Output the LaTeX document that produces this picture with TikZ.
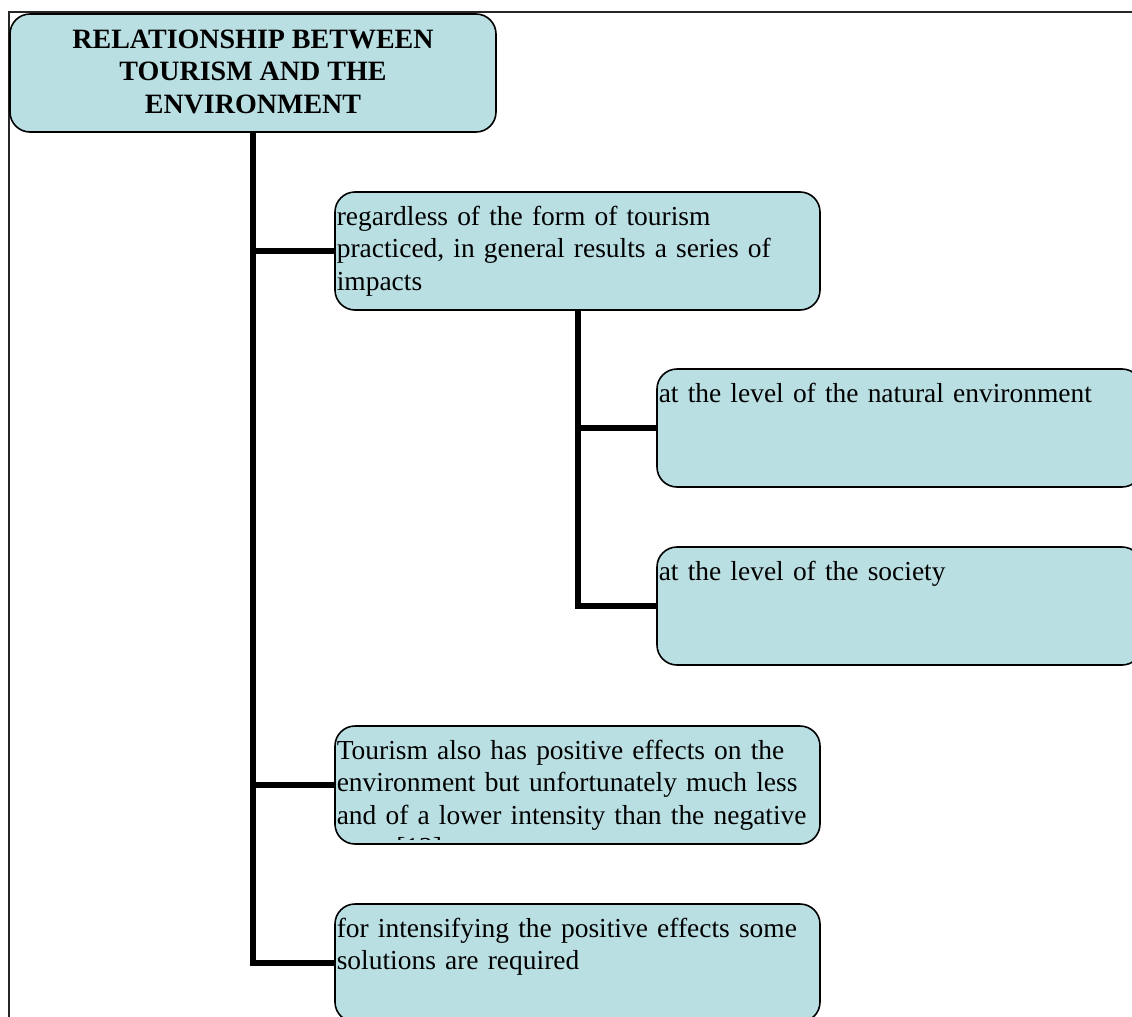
\documentclass[tikz,border=0pt]{standalone}
\usepackage{fontspec}
\setmainfont{Liberation Serif}
\definecolor{boxfill}{RGB}{186,223,227}
\tikzset{
  box/.style={draw=black, line width=1.2pt, fill=boxfill, rounded corners=15pt,
    minimum width=363.75pt, minimum height=88.5pt, inner sep=0pt, outer sep=0pt, anchor=north west},
  txt/.style={anchor=north west, inner sep=0pt, align=left, text width=380pt,
    font=\fontsize{20.6}{24.4}\selectfont},
  ttl/.style={anchor=north, inner sep=0pt, align=center,
    font=\fontsize{21}{24.4}\selectfont\bfseries},
  conn/.style={line width=4.5pt, line join=miter, line cap=butt},
  frameline/.style={line width=1.1pt, draw=black!85}
}
\begin{document}
\begin{tikzpicture}[x=0.75pt,y=-0.75pt]
\useasboundingbox (0,0) rectangle (1132,1017);
\clip (0,0) rectangle (1132,1017);
% frame
\coordinate (fr) at (1132,12);
\coordinate (fc) at (9,12);
\coordinate (fb) at (9,1017);
\draw[frameline] (fr) -- (fc) -- (fb);
% boxes
\node[box, minimum width=364.5pt] (b1) at (10,14) {};
\node[box] (b2) at (335,192) {};
\node[box] (b3) at (657,369) {};
\node[box] (b4) at (657,547) {};
\node[box] (b5) at (335,726) {};
\node[box] (b6) at (335,904) {};
% connectors
\draw[conn] (b1.south) |- (b6.west);
\draw[conn] (b1.south |- b2.west) -- (b2.west);
\draw[conn] (b1.south |- b5.west) -- (b5.west);
\draw[conn] (b2.south) |- (b4.west);
\draw[conn] (b2.south |- b3.west) -- (b3.west);
% texts
\node[ttl] (t1) at (253,25.3) {\strut RELATIONSHIP BETWEEN\\TOURISM AND THE\\ENVIRONMENT};
\node[txt] (t2) at (336.5,202.3) {\strut regardless of the form of tourism\\practiced, in general results a series of\\impacts};
\node[txt] (t3) at (658.5,379.3) {\strut at the level of the natural environment};
\node[txt] (t4) at (658.5,557.3) {\strut at the level of the society};
\begin{scope}
\clip (337,728) rectangle (818,839);
\node[txt] (t5) at (336.5,736.3) {\strut Tourism also has positive effects on the\\environment but unfortunately much less\\and of a lower intensity than the negative\\ones [12].};
\end{scope}
\node[txt] (t6) at (336.5,914.3) {\strut for intensifying the positive effects some\\solutions are required};
\end{tikzpicture}
\end{document}
